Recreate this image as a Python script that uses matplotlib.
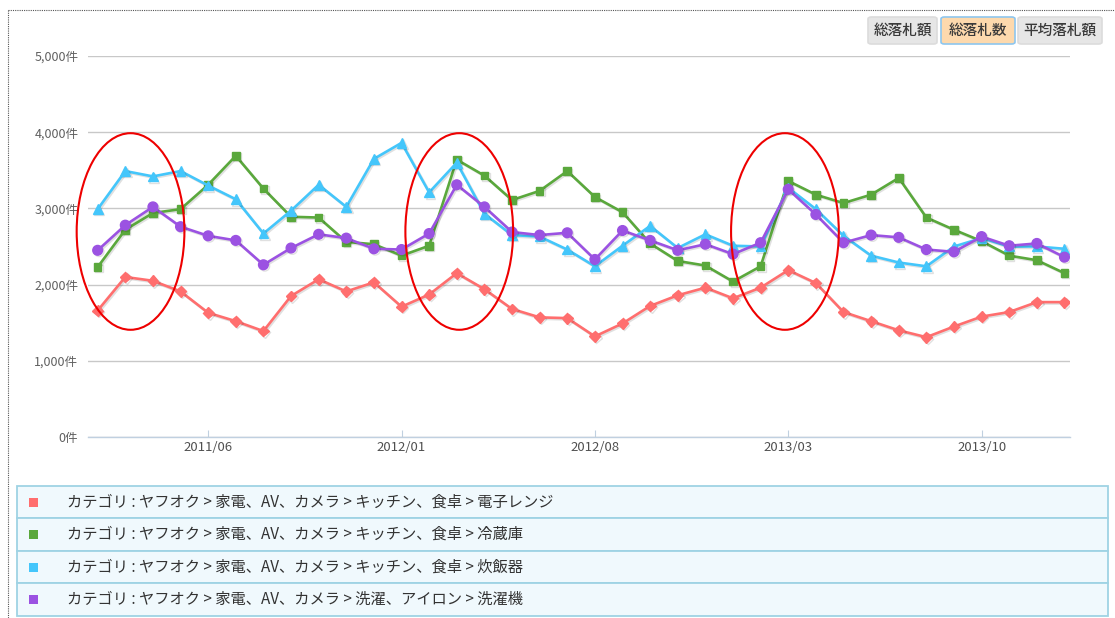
import matplotlib
matplotlib.use("Agg")
import matplotlib.pyplot as plt
import matplotlib.patheffects as pe
from matplotlib.patches import Ellipse, Rectangle, FancyBboxPatch
from matplotlib.lines import Line2D

plt.rcParams["font.family"] = ["Noto Sans CJK JP", "DejaVu Sans"]

# monthly values, 2011/02 .. 2014/01
months = [f"{2011 + (m + 1) // 12}/{(m + 1) % 12 + 1:02d}" for m in range(36)]

microwave = [1660, 2100, 2050, 1910, 1630, 1520, 1390, 1850, 2070, 1910, 2030, 1710,
             1870, 2150, 1940, 1680, 1570, 1560, 1320, 1490, 1720, 1860, 1960, 1820,
             1960, 2190, 2020, 1640, 1520, 1400, 1310, 1450, 1580, 1640, 1770, 1770]
fridge = [2230, 2720, 2940, 2990, 3310, 3690, 3260, 2890, 2880, 2560, 2530, 2380,
          2510, 3640, 3430, 3110, 3230, 3490, 3150, 2950, 2540, 2310, 2250, 2040,
          2240, 3360, 3180, 3070, 3180, 3400, 2880, 2720, 2570, 2380, 2320, 2150]
ricecooker = [2990, 3490, 3420, 3490, 3300, 3120, 2670, 2970, 3310, 3020, 3650, 3860,
              3210, 3600, 2930, 2650, 2630, 2460, 2240, 2510, 2770, 2480, 2660, 2510,
              2500, 3270, 2990, 2640, 2380, 2290, 2240, 2500, 2610, 2500, 2500, 2470]
washer = [2450, 2780, 3020, 2760, 2640, 2580, 2260, 2480, 2660, 2610, 2470, 2460,
          2670, 3310, 3020, 2690, 2650, 2680, 2330, 2710, 2580, 2450, 2530, 2400,
          2550, 3250, 2920, 2550, 2650, 2620, 2460, 2430, 2630, 2510, 2540, 2360]

series_names = [
    "カテゴリ : ヤフオク > 家電、AV、カメラ > キッチン、食卓 > 電子レンジ",
    "カテゴリ : ヤフオク > 家電、AV、カメラ > キッチン、食卓 > 冷蔵庫",
    "カテゴリ : ヤフオク > 家電、AV、カメラ > キッチン、食卓 > 炊飯器",
    "カテゴリ : ヤフオク > 家電、AV、カメラ > 洗濯、アイロン > 洗濯機",
]
colors = ["#ff6e6e", "#5aa83c", "#44c6fb", "#9b52e2"]
markers = ["D", "s", "^", "o"]
msizes = [5.5, 5.5, 7, 7]

y_ticks = [0, 1000, 2000, 3000, 4000, 5000]
x_tick_idx = [4, 11, 18, 25, 32]
buttons = ["総落札額", "総落札数", "平均落札額"]

W, H = 1115, 618
fig = plt.figure(figsize=(W / 100, H / 100), dpi=100)


def fx(px):
    return px / W


def fy(py):
    return 1 - py / H


ax = fig.add_axes([fx(88), fy(437), fx(1070) - fx(88), fy(56) - fy(437)])

for vals, c, m, ms in zip([microwave, fridge, ricecooker, washer], colors, markers, msizes):
    ax.plot(range(len(vals)), vals, color=c, lw=1.9, marker=m, ms=ms, mec=c, mfc=c,
            path_effects=[pe.SimpleLineShadow(offset=(1, -1), alpha=0.12), pe.Normal()],
            zorder=3)

ax.set_xlim(-0.35, 35.2)
ax.set_ylim(0, 5000)
ax.set_yticks(y_ticks)
ax.set_yticklabels([f"{v:,}件" for v in y_ticks])
ax.set_xticks(x_tick_idx)
ax.set_xticklabels([months[i] for i in x_tick_idx])
ax.grid(axis="y", color="#c8c8c8", lw=1)
ax.set_axisbelow(True)
for s in ["top", "right", "left"]:
    ax.spines[s].set_visible(False)
ax.spines["bottom"].set_color("#c0d0e0")
ax.spines["bottom"].set_linewidth(1)
ax.tick_params(axis="y", length=0, pad=7, labelsize=9, labelcolor="#606060")
ax.tick_params(axis="x", direction="in", length=5, color="#c0d0e0", pad=3,
               labelsize=9.5, labelcolor="#505050")

# red highlight ellipses
for cx in [1.19, 13.09, 24.88]:
    ax.add_patch(Ellipse((cx, 2697), 3.9, 2580, fill=False, ec="#ee0000", lw=1.5,
                         clip_on=False, zorder=4))

# dotted frame
fig.add_artist(Line2D([fx(8), fx(1115)], [fy(10), fy(10)], color="#555555", lw=0.8,
                      ls=(0, (1, 1))))
fig.add_artist(Line2D([fx(8), fx(8)], [fy(10), fy(618)], color="#555555", lw=0.8,
                      ls=(0, (1, 1))))

# buttons
btn_x = [(868, 937), (941, 1015), (1018, 1102)]
for (x0, x1), label, i in zip(btn_x, buttons, range(3)):
    sel = i == 1
    fig.add_artist(FancyBboxPatch((fx(x0), fy(44)), fx(x1) - fx(x0), fy(17) - fy(44),
                                  boxstyle="round,pad=0,rounding_size=0.003",
                                  fc="#fdd9ad" if sel else "#e6e6e6",
                                  ec="#8ec6ee" if sel else "#dcdcdc", lw=1.2))
    fig.text(fx((x0 + x1) / 2), fy(31), label, ha="center", va="center",
             fontsize=10.5, color="#3a3a3a", fontweight="medium")

# legend table
row_edges = [486, 518, 551, 583, 616]
for i, (name, c) in enumerate(zip(series_names, colors)):
    y0, y1 = row_edges[i], row_edges[i + 1]
    fig.add_artist(Rectangle((fx(17), fy(y1)), fx(1108) - fx(17), fy(y0) - fy(y1),
                             fc="#f0f9fd", ec="#9fd3e4", lw=1.3))
    fig.add_artist(Rectangle((fx(29), fy((y0 + y1) / 2 + 4.5)), fx(9), 9 / H,
                             fc=c, ec="none"))
    fig.text(fx(67), fy((y0 + y1) / 2), name, ha="left", va="center",
             fontsize=11, color="#333333")

fig.savefig("out.png", dpi=100)
